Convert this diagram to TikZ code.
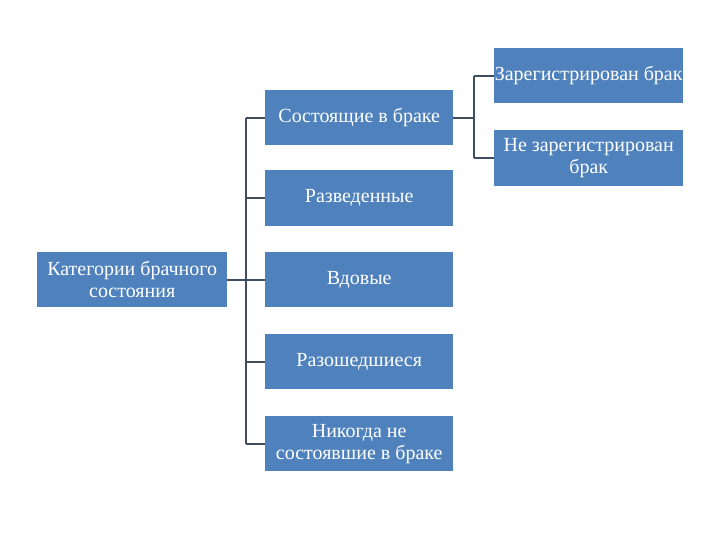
\documentclass[tikz,border=0pt]{standalone}
\usepackage{fontspec}
\setmainfont{Liberation Serif}
\begin{document}
\begin{tikzpicture}[x=1pt,y=-1pt,
  cat/.style={draw=none,fill=boxblue,text=white,anchor=north west,inner sep=0pt,
    align=center,font=\fontsize{20}{22}\selectfont},
  link/.style={draw=linegray,line width=2pt}]
\definecolor{boxblue}{HTML}{4F81BD}
\definecolor{linegray}{HTML}{3F4E60}
\useasboundingbox (0,0) rectangle (720,540);
\node[cat,minimum width=190pt,minimum height=55pt] (root) at (37,252) {Категории брачного\\состояния};
\node[cat,minimum width=188pt,minimum height=55pt] (m1) at (265,90) {Состоящие в браке};
\node[cat,minimum width=188pt,minimum height=56pt] (m2) at (265,170) {Разведенные};
\node[cat,minimum width=188pt,minimum height=55pt] (m3) at (265,252) {Вдовые};
\node[cat,minimum width=188pt,minimum height=55pt] (m4) at (265,334) {Разошедшиеся};
\node[cat,minimum width=188pt,minimum height=55pt] (m5) at (265,416) {Никогда не\\состоявшие в браке};
\node[cat,minimum width=189pt,minimum height=55pt] (r1) at (494,48) {Зарегистрирован брак};
\node[cat,minimum width=189pt,minimum height=56pt] (r2) at (494,130) {Не зарегистрирован\\брак};
\coordinate (jl) at (245.5,0);
\coordinate (jr) at (474,0);
\draw[link] (root.east) -- (root.east -| jl);
\foreach \n in {m1,m2,m3,m4,m5}{\draw[link] (\n.west) -- (\n.west -| jl);}
\draw[link] (m1.west -| jl) -- (m5.west -| jl);
\draw[link] (m1.east) -- (m1.east -| jr);
\foreach \n in {r1,r2}{\draw[link] (\n.west) -- (\n.west -| jr);}
\draw[link] (r1.west -| jr) -- (r2.west -| jr);
\end{tikzpicture}
\end{document}
